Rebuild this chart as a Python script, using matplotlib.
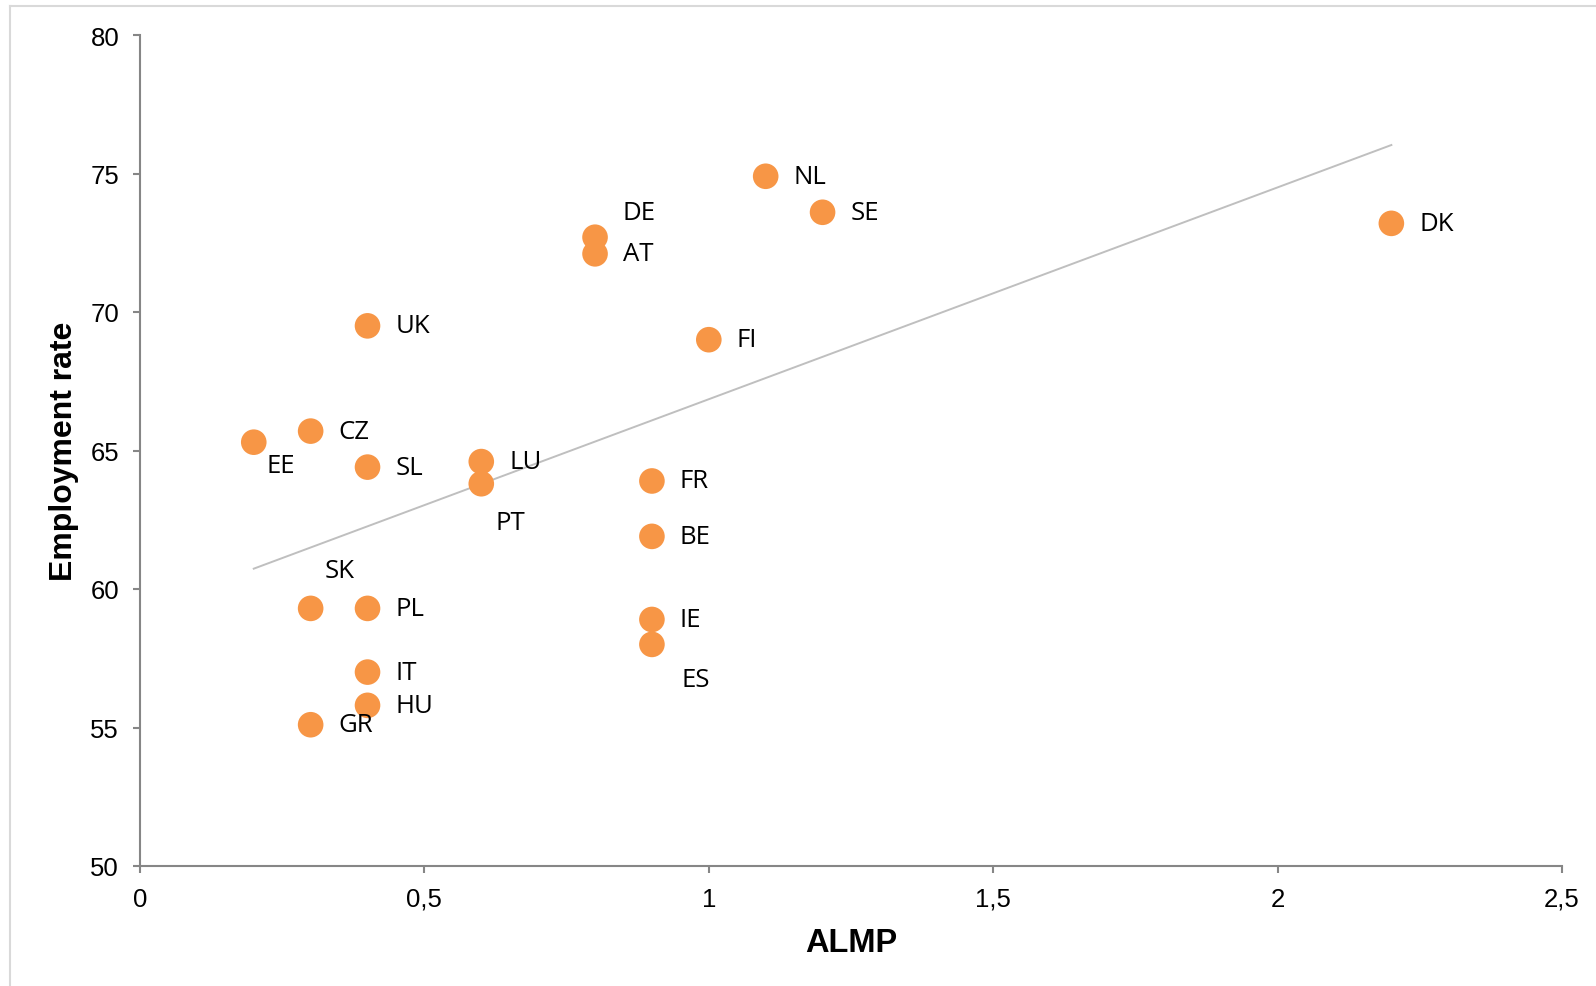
import numpy as np
import matplotlib.pyplot as plt
from matplotlib.lines import Line2D

# ALMP spending vs employment rate, by country
countries = ['NL', 'SE', 'DK', 'DE', 'AT', 'UK', 'FI', 'CZ', 'EE', 'SL', 'LU',
             'PT', 'FR', 'BE', 'SK', 'PL', 'IE', 'ES', 'IT', 'HU', 'GR']
almp = [1.1, 1.2, 2.2, 0.8, 0.8, 0.4, 1.0, 0.3, 0.2, 0.4, 0.6,
        0.6, 0.9, 0.9, 0.3, 0.4, 0.9, 0.9, 0.4, 0.4, 0.3]
employment = [74.9, 73.6, 73.2, 72.7, 72.1, 69.5, 69.0, 65.7, 65.3, 64.4, 64.6,
              63.8, 63.9, 61.9, 59.3, 59.3, 58.9, 58.0, 57.0, 55.8, 55.1]

x_ticks = [0, 0.5, 1, 1.5, 2, 2.5]
x_ticklabels = ['0', '0,5', '1', '1,5', '2', '2,5']
y_ticks = [50, 55, 60, 65, 70, 75, 80]

# label offsets in points (default: right of the marker)
label_offsets = {
    'DE': (20, 18),
    'EE': (9, -17),
    'PT': (10, -28),
    'SK': (10, 27),
    'ES': (21, -25),
}

ORANGE = '#F79646'
W, H = 1596, 987

fig = plt.figure(figsize=(W / 100, H / 100), dpi=100)
ax = fig.add_axes([140 / W, 1 - 867 / H, (1562 - 140) / W, (867 - 36) / H])

# chart area border (only left/top visible)
fig.add_artist(Line2D([10 / W, 10 / W], [0, 1 - 7 / H], transform=fig.transFigure,
                      color='#D9D9D9', linewidth=1.5))
fig.add_artist(Line2D([10 / W, 1], [1 - 7 / H, 1 - 7 / H], transform=fig.transFigure,
                      color='#D9D9D9', linewidth=1.5))

# linear trend
x = np.array(almp)
y = np.array(employment)
slope, intercept = np.polyfit(x, y, 1)
xs = np.array([x.min(), x.max()])
ax.plot(xs, slope * xs + intercept, color='#BFBFBF', linewidth=1.4, zorder=2)

ax.scatter(x, y, s=340, color=ORANGE, edgecolors='none', zorder=3)

for name, xi, yi in zip(countries, almp, employment):
    dx, dy = label_offsets.get(name, (20, 0))
    ax.annotate(name, (xi, yi), xytext=(dx, dy), textcoords='offset points',
                ha='left', va='center', fontsize=18.5, family='Open Sans',
                color='black', zorder=4)

ax.set_xlim(0, 2.5)
ax.set_ylim(50, 80)
ax.set_xticks(x_ticks)
ax.set_xticklabels(x_ticklabels)
ax.set_yticks(y_ticks)

for side in ['top', 'right']:
    ax.spines[side].set_visible(False)
for side in ['left', 'bottom']:
    ax.spines[side].set_color('#868686')
    ax.spines[side].set_linewidth(1.5)

ax.tick_params(axis='both', direction='out', length=5, width=1.5, color='#868686',
               labelsize=18.5, pad=10)
for lab in ax.get_xticklabels() + ax.get_yticklabels():
    lab.set_family('Liberation Sans')

ax.set_xlabel('ALMP', fontsize=23.5, fontweight='bold', family='Liberation Sans')
ax.set_ylabel('Employment rate', fontsize=23, fontweight='bold', family='Liberation Sans')
ax.xaxis.label.set_verticalalignment('center')
ax.yaxis.label.set_verticalalignment('center')
ax.xaxis.set_label_coords(0.5, (867 - 944) / 831)
ax.yaxis.set_label_coords((64 - 140) / 1422, 0.5)

plt.savefig('out.png', dpi=100)
